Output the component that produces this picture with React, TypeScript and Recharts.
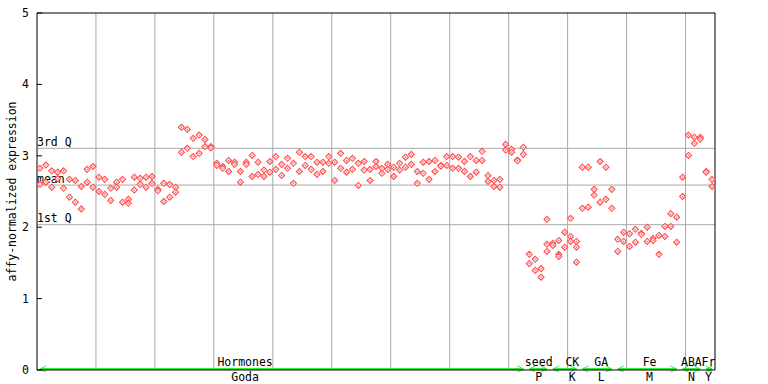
import { ComposedChart, Scatter, XAxis, YAxis, ReferenceLine } from "recharts";

// expression per sample (two or three replicates)
const repA = [
  2.825, 2.87, 2.79, 2.77, 2.79, 2.67, 2.655, 2.57, 2.81, 2.85,
  2.7, 2.67, 2.545, 2.63, 2.67, 2.39, 2.7, 2.685, 2.7, 2.71,
  2.53, 2.615, 2.6, 2.56, 3.4, 3.37, 3.245, 3.29, 3.23, 3.13,
  2.895, 2.85, 2.935, 2.91, 2.78, 2.91, 3.005, 2.91, 2.8, 2.92,
  2.99, 2.88, 2.965, 2.895, 3.05, 2.99, 2.99, 2.91, 2.91, 2.99,
  2.91, 3.035, 2.935, 2.965, 2.895, 2.92, 2.81, 2.92, 2.825, 2.88,
  2.84, 2.895, 2.98, 3.02, 2.78, 2.91, 2.92, 2.935, 2.865, 2.99,
  2.99, 2.98, 2.92, 2.99, 2.935, 3.063, 2.725, 2.655, 2.67, 3.16,
  3.09, 2.94, 3.12, 1.62, 1.55, 1.42, 2.11, 1.775, 1.815, 1.93,
  2.125, 1.8, 2.84, 2.84, 2.53, 2.92, 2.84, 2.53, 1.83, 1.93,
  1.91, 1.97, 1.915, 2.0, 1.845, 1.885, 2.01, 2.19, 2.14, 2.7,
  3.29, 3.26, 3.26, 2.78, 2.67,
];
const repB = [
  2.6, 2.63, 2.56, 2.68, 2.545, 2.42, 2.35, 2.255, 2.63, 2.56,
  2.5, 2.46, 2.375, 2.56, 2.35, 2.335, 2.52, 2.6, 2.56, 2.615,
  2.51, 2.36, 2.42, 2.49, 3.05, 3.105, 2.99, 3.035, 3.13, 3.11,
  2.865, 2.825, 2.78, 2.88, 2.63, 2.88, 2.71, 2.74, 2.71, 2.77,
  2.81, 2.725, 2.825, 2.615, 2.78, 2.865, 2.81, 2.74, 2.78, 2.895,
  2.655, 2.825, 2.77, 2.81, 2.585, 2.8, 2.655, 2.85, 2.755, 2.81,
  2.71, 2.8, 2.84, 2.88, 2.615, 2.755, 2.67, 2.78, 2.855, 2.865,
  2.825, 2.825, 2.78, 2.71, 2.77, 2.935, 2.64, 2.57, 2.56, 3.08,
  3.05, 2.93, 3.02, 1.49, 1.395, 1.3, 1.76, 1.745, 1.62, 1.72,
  1.87, 1.72, 2.265, 2.28, 2.45, 2.35, 2.39, 2.265, 1.66, 1.8,
  1.73, 1.79, 1.9, 1.8, 1.815, 1.62, 1.87, 2.01, 1.79, 2.43,
  3.005, 3.175, 3.235, 2.77, 2.57,
];
// third replicate only where one exists: [sample, value]
const repC = [
  [86, 1.66],
  [88, 1.59],
  [90, 1.8],
  [91, 1.51],
];

const statLines = [
  { label: "3rd Q", value: 3.105 },
  { label: "mean", value: 2.59 },
  { label: "1st Q", value: 2.035 },
];

const groups = [
  { top: "Hormones", bottom: "Goda", start: 0, end: 82, labelAt: 34.8 },
  { top: "seed", bottom: "P", start: 83, end: 86, labelAt: 84.6 },
  { top: "CK", bottom: "K", start: 87, end: 91, labelAt: 90.3 },
  { top: "GA", bottom: "L", start: 92, end: 97, labelAt: 95.2 },
  { top: "Fe", bottom: "M", start: 98, end: 108, labelAt: 103.4 },
  { top: "ABA", bottom: "N", start: 109, end: 112, labelAt: 110.5 },
  { top: "Fr", bottom: "Y", start: 113, end: 114, labelAt: 113.4 },
];

const yTicks = [0, 1, 2, 3, 4, 5];
const gridEvery = 10;

const FONT = "'DejaVu Sans Mono', monospace";
const RED = "#ff5050";
const GREEN = "#33ee33";
const GRID = "#a8a8a8";

const nSamples = repA.length;
const dataA = repA.map((y, i) => ({ x: i, y }));
const dataB = repB.map((y, i) => ({ x: i, y }));
const dataC = repC.map(([x, y]) => ({ x, y }));
const gridX: number[] = [];
for (let k = gridEvery; k < nSamples; k += gridEvery) gridX.push(k - 0.5);

const Diamond = (props: any) => {
  const { cx, cy } = props;
  if (cx == null || cy == null) return <g />;
  const r = 3;
  return (
    <g>
      <polygon
        points={`${cx},${cy - r} ${cx + r},${cy} ${cx},${cy + r} ${cx - r},${cy}`}
        fill="#fff0f0"
        stroke={RED}
        strokeWidth={1.1}
      />
      <rect x={cx - 0.6} y={cy - 0.6} width={1.2} height={1.2} fill={RED} />
    </g>
  );
};

const LeftTick = (props: any) => {
  const { x, y, payload } = props;
  return (
    <g>
      <line x1={x} y1={y} x2={x + 5} y2={y} stroke="#000" />
      <text x={x - 8} y={y + 4} textAnchor="end" fontFamily={FONT} fontSize={11.5} fill="#000">
        {payload.value}
      </text>
    </g>
  );
};

const RightTick = (props: any) => {
  const { x, y } = props;
  return <line x1={x - 5} y1={y} x2={x} y2={y} stroke="#000" />;
};

const makeGroupShape = (g: (typeof groups)[number]) => (p: any) => {
  const { x1, x2, y1 } = p;
  const y = y1 - 1;
  const lx = g.end === g.start ? x1 : x1 + ((g.labelAt - g.start) / (g.end - g.start)) * (x2 - x1);
  return (
    <g>
      <line x1={x1} y1={y} x2={x2} y2={y} stroke={GREEN} strokeWidth={2} />
      <polyline points={`${x1 + 6},${y - 3} ${x1},${y} ${x1 + 6},${y + 3}`} fill="none" stroke={GREEN} strokeWidth={1} />
      <polyline points={`${x2 - 6},${y - 3} ${x2},${y} ${x2 - 6},${y + 3}`} fill="none" stroke={GREEN} strokeWidth={1} />
      <text x={lx} y={y1 - 4} textAnchor="middle" fontFamily={FONT} fontSize={11.5} fill="#000">
        {g.top}
      </text>
      <text x={lx} y={y1 + 11} textAnchor="middle" fontFamily={FONT} fontSize={11.5} fill="#000">
        {g.bottom}
      </text>
    </g>
  );
};

export default function App() {
  return (
    <div style={{ position: "absolute", left: 0, top: 0, width: 768, height: 384, background: "#fff" }}>
      <ComposedChart width={768} height={384} margin={{ top: 13, right: 0, bottom: 0, left: 0 }}>
        <XAxis
          dataKey="x"
          type="number"
          domain={[-0.5, nSamples - 0.5]}
          tick={false}
          tickLine={false}
          axisLine={{ stroke: "#000" }}
          height={14}
          allowDataOverflow
        />
        <YAxis
          type="number"
          domain={[0, 5]}
          ticks={yTicks}
          width={37}
          tickSize={0}
          tickMargin={0}
          tick={<LeftTick />}
          axisLine={{ stroke: "#000" }}
          label={(p: any) => {
            const vb = p.viewBox || { x: 0, y: 13, width: 37, height: 357 };
            const cx = vb.x + 12;
            const cy = vb.y + vb.height / 2;
            return (
              <text
                x={cx}
                y={cy}
                transform={`rotate(-90 ${cx} ${cy})`}
                textAnchor="middle"
                dominantBaseline="central"
                fontFamily={FONT}
                fontSize={11.5}
                fill="#000"
              >
                affy-normalized expression
              </text>
            );
          }}
        />
        <YAxis
          yAxisId="r"
          orientation="right"
          type="number"
          domain={[0, 5]}
          ticks={yTicks}
          width={53}
          tickSize={0}
          tickMargin={0}
          tick={<RightTick />}
          axisLine={{ stroke: "#000" }}
        />
        {gridX.map((gx) => (
          <ReferenceLine key={gx} x={gx} stroke={GRID} strokeWidth={1} />
        ))}
        {statLines.map((s) => (
          <ReferenceLine
            key={s.label}
            y={s.value}
            stroke={GRID}
            strokeWidth={1}
            label={(p: any) => {
              const vb = p.viewBox || { x: 37, y: 0 };
              return (
                <text x={vb.x} y={vb.y - 2.5} fontFamily={FONT} fontSize={11.5} fill="#000">
                  {s.label}
                </text>
              );
            }}
          />
        ))}
        <ReferenceLine y={5} stroke="#000" strokeWidth={1} />
        <Scatter data={dataA} dataKey="y" shape={Diamond} isAnimationActive={false} />
        <Scatter data={dataB} dataKey="y" shape={Diamond} isAnimationActive={false} />
        <Scatter data={dataC} dataKey="y" shape={Diamond} isAnimationActive={false} />
        {groups.map((g) => (
          <ReferenceLine
            key={g.top}
            segment={[
              { x: g.start, y: 0 },
              { x: g.end, y: 0 },
            ]}
            shape={makeGroupShape(g)}
          />
        ))}
      </ComposedChart>
    </div>
  );
}
